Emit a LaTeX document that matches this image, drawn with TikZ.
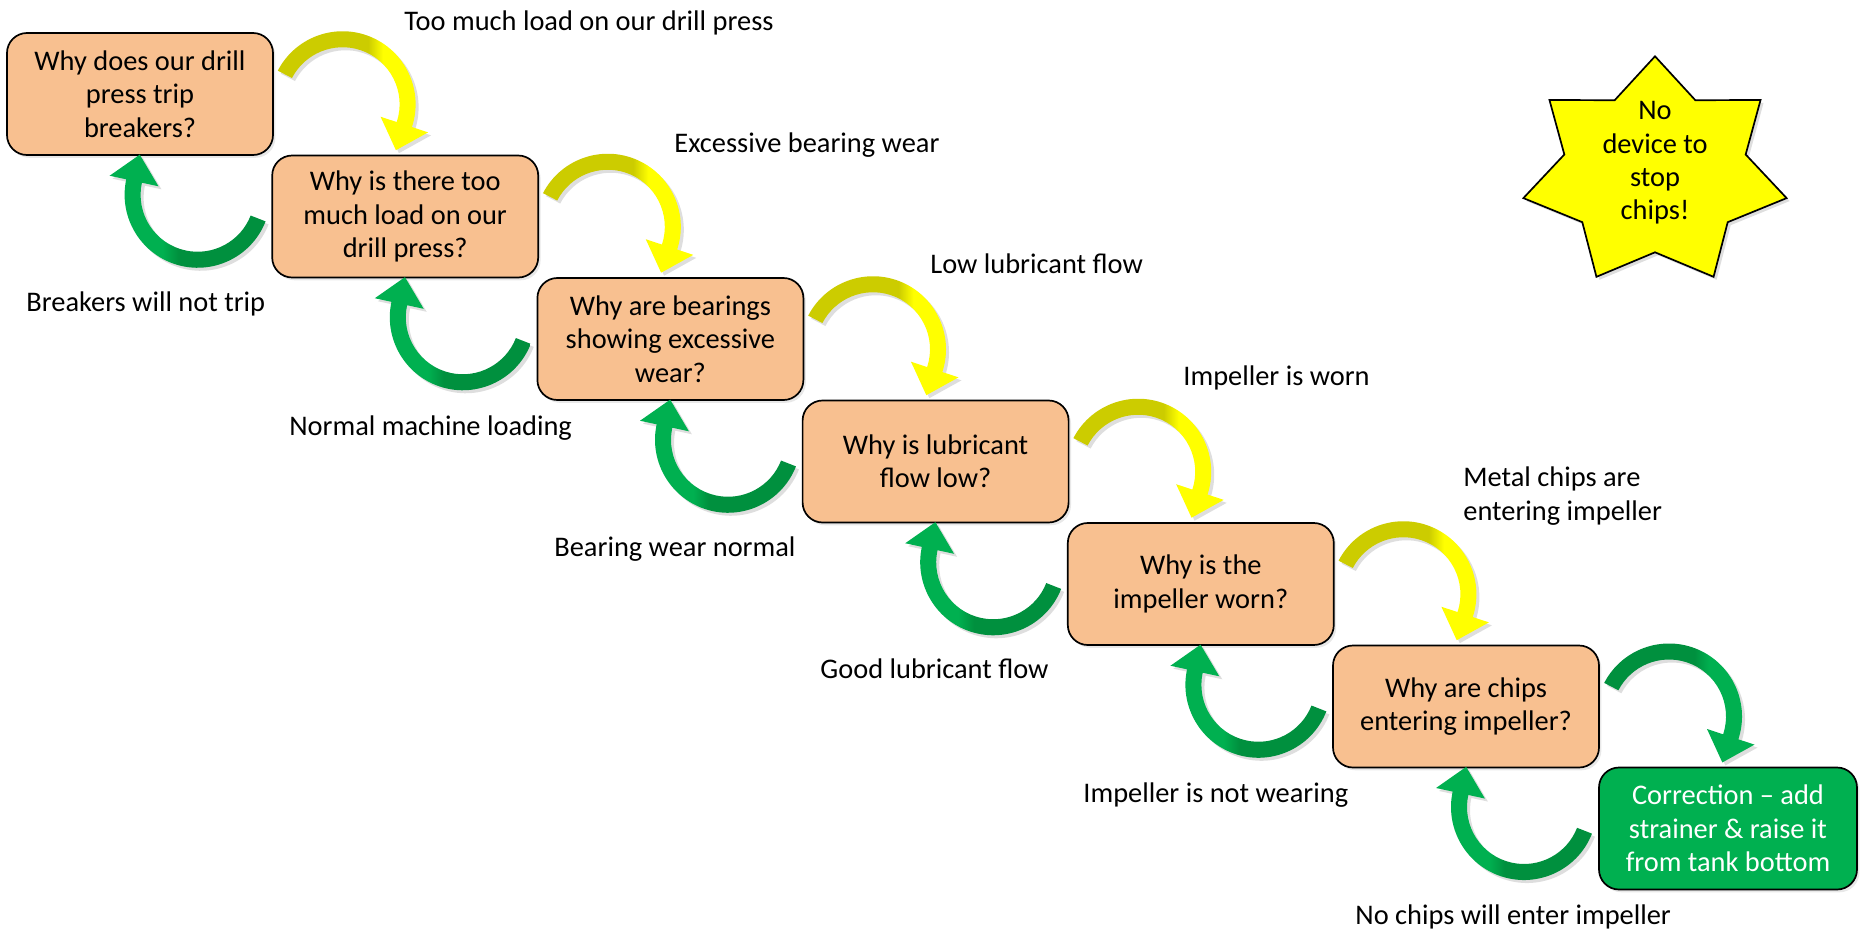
\documentclass[tikz,border=0pt]{standalone}
\usepackage{fontspec}
\setmainfont{Carlito}
\usetikzlibrary{calc,shadows}

\definecolor{boxfill}{RGB}{248,192,144}
\definecolor{fixfill}{RGB}{0,176,80}
\definecolor{arcolive}{RGB}{204,204,0}
\definecolor{arcyellow}{RGB}{255,255,0}
\definecolor{arcgreendark}{RGB}{0,144,62}
\definecolor{arcgreen}{RGB}{0,176,80}
\definecolor{starfill}{RGB}{255,255,0}

% colour runs of the bent block arrows (left to right on the page)
\pgfdeclarehorizontalshading{fwdyellow}{100bp}{color(0bp)=(arcolive); color(55bp)=(arcolive); color(60bp)=(arcyellow); color(100bp)=(arcyellow)}
\pgfdeclarehorizontalshading{fwdgreen}{100bp}{color(0bp)=(arcgreendark); color(55bp)=(arcgreendark); color(60bp)=(arcgreen); color(100bp)=(arcgreen)}
\pgfdeclarehorizontalshading{backgreen}{100bp}{color(0bp)=(arcgreen); color(42bp)=(arcgreen); color(47bp)=(arcgreendark); color(100bp)=(arcgreendark)}

\tikzset{
  every node/.style={font=\fontsize{14.2}{16.7}\selectfont},
  whybox/.style={draw=black, line width=0.85pt, fill=boxfill, rounded corners=10pt,
    minimum width=133pt, minimum height=61pt, inner sep=0pt, outer sep=0pt, align=center,
    drop shadow={opacity=0.18, shadow xshift=1.2pt, shadow yshift=-1.4pt}},
  fixbox/.style={whybox, fill=fixfill, text=white, minimum width=129pt},
  lbl/.style={anchor=base west, inner sep=0pt},
  % clockwise bent block arrow around the origin, turned by #1 degrees
  arrowband/.style={insert path={
    ({#1+152.6}:73) arc[start angle={#1+152.6}, end angle={#1-18.2}, radius=73]
    -- ({#1-18.2}:90) -- ([shift={({#1-108.2}:27)}]{#1-18.2}:65)
    -- ({#1-18.2}:40) -- ({#1-18.2}:57)
    arc[start angle={#1-18.2}, end angle={#1+152.6}, radius=57] -- cycle}},
  arrowshadow/.style={fill=black, opacity=0.13, xshift=1.5pt, yshift=-1.5pt}
}

\begin{document}
\begin{tikzpicture}[x=0.5pt, y=-0.5pt]
\useasboundingbox (0,0) rectangle (1864,932);

% question boxes, one step down and right each
\node[whybox] (b1) at (140,94)      {Why does our drill\\press trip\\breakers?};
\node[whybox] (b2) at (405.2,216.5) {Why is there too\\much load on our\\drill press?};
\node[whybox] (b3) at (670.4,339)   {Why are bearings\\showing excessive\\wear?};
\node[whybox] (b4) at (935.6,461.5) {Why is lubricant\\flow low?};
\node[whybox] (b5) at (1200.8,584)  {Why is the\\impeller worn?};
\node[whybox] (b6) at (1466,706.5)  {Why are chips\\entering impeller?};
\node[fixbox] (b7) at (1728,828.5)  {Correction – add\\strainer \& raise it\\from tank bottom};

% corners where neighbouring boxes meet
\foreach \k [evaluate=\k as \n using int(\k+1)] in {1,...,6}
  \coordinate (j\k) at ($(b\k.south east)!0.5!(b\n.north west)$);

% forward arrows (answer leads to the next question)
\foreach \k in {1,...,5} {
  \fill[shift={($(j\k)+(70,-51)$)}, y=0.5pt, arrowshadow, arrowband=0];
  \shade[shift={($(j\k)+(70,-51)$)}, y=0.5pt, shading=fwdyellow, arrowband=0];
}
\fill[shift={($(j6)+(70,-51)$)}, y=0.5pt, arrowshadow, arrowband=0];
\shade[shift={($(j6)+(70,-51)$)}, y=0.5pt, shading=fwdgreen, arrowband=0];

% return arrows (check back up the chain)
\foreach \k in {1,...,6} {
  \fill[shift={($(j\k)+(-75,39.5)$)}, y=0.5pt, arrowshadow, arrowband=186];
  \shade[shift={($(j\k)+(-75,39.5)$)}, y=0.5pt, shading=backgreen, arrowband=186];
}

% answers on the way down
\node[lbl] (y1) at (404,30)   {Too much load on our drill press};
\node[lbl] (y2) at (674,152)  {Excessive bearing wear};
\node[lbl] (y3) at (930,273)  {Low lubricant flow};
\node[lbl] (y4) at (1183,385) {Impeller is worn};
\node[anchor=west, inner sep=0pt, align=left] (y5) at (1463,496) {Metal chips are\\entering impeller};

% checks on the way back
\node[lbl] (g1) at (26,311)   {Breakers will not trip};
\node[lbl] (g2) at (289,435)  {Normal machine loading};
\node[lbl] (g3) at (554,556)  {Bearing wear normal};
\node[lbl] (g4) at (820,678)  {Good lubricant flow};
\node[lbl] (g5) at (1083,802) {Impeller is not wearing};
\node[lbl] (g6) at (1355,924) {No chips will enter impeller};

% seven-pointed burst
\begin{scope}[shift={(1655,172.3)}, y=0.5pt]
  \fill[arrowshadow] (90:135 and 116)
    \foreach \a in {0,...,6} { -- ({90+\a*360/7+360/14}:93 and 80) -- ({90+(\a+1)*360/7}:135 and 116) } -- cycle;
  \draw[fill=starfill, line width=0.85pt, line join=miter] (90:135 and 116)
    \foreach \a in {0,...,6} { -- ({90+\a*360/7+360/14}:93 and 80) -- ({90+(\a+1)*360/7}:135 and 116) } -- cycle;
\end{scope}
\node[align=center, inner sep=0pt] (burst) at (1655,163) {No\\device to\\stop\\chips!};
\end{tikzpicture}
\end{document}
